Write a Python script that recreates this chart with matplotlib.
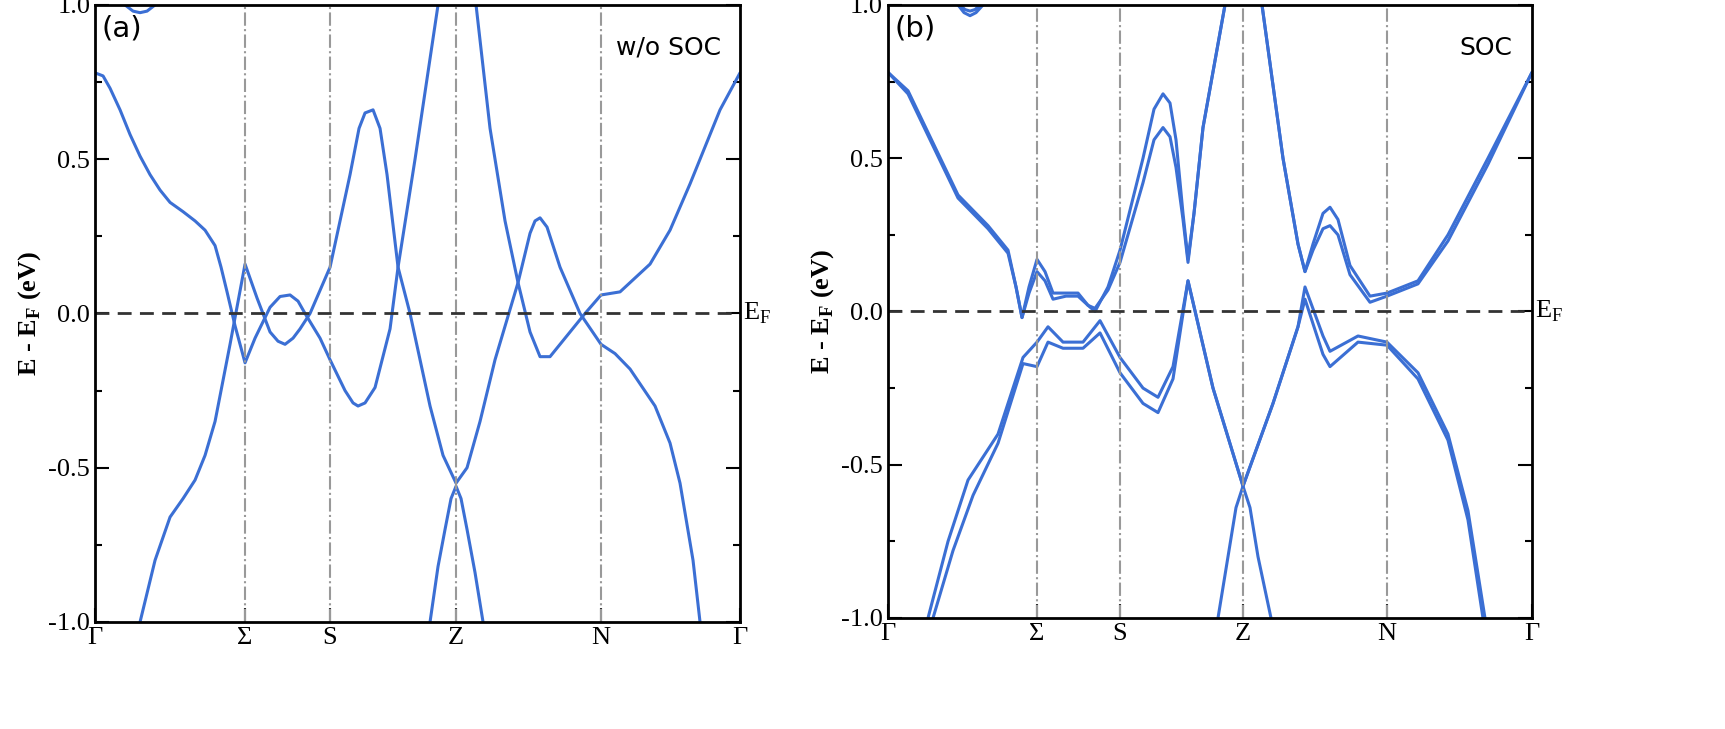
import numpy as np
import matplotlib
matplotlib.use("Agg")
import matplotlib.pyplot as plt
from matplotlib.ticker import MultipleLocator

# path coordinate (arbitrary units along k-path), energies in eV
kpts_a = [0, 150, 235, 361, 506, 645]
kpts_b = [0, 149, 232, 355, 499, 644]
klabels = ["Γ", "Σ", "S", "Z", "N", "Γ"]

a_top_k = [0, 8, 15, 25, 35, 45, 55, 65, 75, 88, 100, 110, 120, 126, 132, 140, 150, 160, 175, 185, 195, 203,
           210, 225, 235, 250, 258, 263, 270, 280, 295, 303, 320, 343, 361, 381, 395, 410, 423, 435, 445, 455,
           470, 490, 506, 525, 555, 575, 595, 625, 645]
a_top_e = [0.78, 0.77, 0.73, 0.66, 0.58, 0.51, 0.45, 0.4, 0.36, 0.33, 0.3, 0.27, 0.22, 0.15, 0.07, -0.04,
           -0.16, -0.08, 0.02, 0.055, 0.06, 0.04, 0.0, -0.08, -0.15, -0.25, -0.29, -0.3, -0.29, -0.24, -0.05,
           0.15, 0.5, 1.0, 1.1, 1.0, 0.6, 0.3, 0.1, -0.06, -0.14, -0.14, -0.08, 0.0, 0.06, 0.07, 0.16, 0.27,
           0.42, 0.66, 0.78]
a_mid_k = [45, 60, 75, 88, 100, 110, 120, 135, 150, 162, 175, 183, 190, 198, 205, 215, 235, 255, 264, 270,
           278, 285, 292, 303, 315, 335, 348, 361, 372, 385, 400, 423, 435, 440, 445, 452, 465, 485, 506, 520,
           535, 560, 575, 585, 598, 605]
a_mid_e = [-1.0, -0.8, -0.66, -0.6, -0.54, -0.46, -0.35, -0.1, 0.16, 0.05, -0.06, -0.09, -0.1, -0.08, -0.05,
           0.0, 0.15, 0.45, 0.6, 0.65, 0.66, 0.6, 0.45, 0.15, 0.0, -0.3, -0.46, -0.55, -0.5, -0.35, -0.15,
           0.1, 0.26, 0.3, 0.31, 0.28, 0.15, 0.0, -0.1, -0.13, -0.18, -0.3, -0.42, -0.55, -0.8, -1.0]
a_low_k = [335, 343, 350, 356, 361, 366, 372, 380, 388]
a_low_e = [-1.0, -0.82, -0.7, -0.6, -0.56, -0.6, -0.7, -0.84, -1.0]
a_arc_k = [30, 38, 45, 52, 60]
a_arc_e = [1.0, 0.98, 0.975, 0.98, 1.0]

b_top1_k = [0, 20, 45, 70, 100, 120, 128, 134, 141, 149, 157, 165, 178, 190, 200, 207, 220, 232, 255, 266,
            275, 282, 288, 295, 300, 306, 315, 337, 355, 374, 395, 410, 417, 425, 435, 442, 450, 462, 482, 499,
            530, 560, 600, 644]
b_top1_e = [0.78, 0.72, 0.55, 0.38, 0.28, 0.2, 0.08, -0.02, 0.08, 0.17, 0.13, 0.06, 0.06, 0.06, 0.02, 0.0,
            0.08, 0.2, 0.5, 0.66, 0.71, 0.68, 0.56, 0.32, 0.17, 0.32, 0.6, 1.0, 1.1, 1.0, 0.5, 0.22, 0.13, 0.22,
            0.32, 0.34, 0.3, 0.15, 0.05, 0.06, 0.1, 0.25, 0.5, 0.78]
b_top2_e = [0.78, 0.71, 0.54, 0.37, 0.27, 0.19, 0.08, -0.02, 0.06, 0.13, 0.1, 0.04, 0.05, 0.05, 0.02, 0.01,
            0.07, 0.16, 0.42, 0.56, 0.6, 0.57, 0.47, 0.3, 0.16, 0.32, 0.6, 1.0, 1.1, 1.0, 0.5, 0.22, 0.13, 0.2,
            0.27, 0.28, 0.25, 0.12, 0.03, 0.05, 0.09, 0.23, 0.48, 0.78]
b_low1_k = [40, 60, 80, 110, 135, 149, 160, 175, 195, 212, 232, 255, 270, 285, 300, 325, 355, 385, 410, 417,
            435, 442, 470, 499, 530, 560, 580, 597]
b_low1_e = [-1.0, -0.75, -0.55, -0.4, -0.15, -0.1, -0.05, -0.1, -0.1, -0.03, -0.15, -0.25, -0.28, -0.18,
            0.1, -0.25, -0.57, -0.3, -0.05, 0.08, -0.08, -0.13, -0.08, -0.1, -0.2, -0.4, -0.65, -1.0]
b_low2_k = [45, 65, 85, 110, 135, 149, 160, 175, 195, 212, 232, 255, 270, 285, 300, 325, 355, 385, 410, 417,
            435, 442, 470, 499, 530, 560, 580, 595]
b_low2_e = [-1.0, -0.78, -0.6, -0.43, -0.17, -0.18, -0.1, -0.12, -0.12, -0.07, -0.2, -0.3, -0.33, -0.22,
            0.1, -0.25, -0.57, -0.3, -0.05, 0.04, -0.14, -0.18, -0.1, -0.11, -0.22, -0.42, -0.68, -1.0]
b_z_k = [330, 340, 348, 355, 362, 370, 383]
b_z_e = [-1.0, -0.8, -0.64, -0.57, -0.64, -0.8, -1.0]
b_arc1_k = [70, 76, 82, 88, 95]
b_arc1_e = [1.0, 0.975, 0.965, 0.975, 1.0]
b_arc2_k = [72, 77, 82, 87, 92]
b_arc2_e = [1.0, 0.985, 0.98, 0.985, 1.0]

blue = "#3b6fd4"
plt.rcParams['font.family'] = 'Liberation Serif'
plt.rcParams['xtick.direction'] = 'in'
plt.rcParams['ytick.direction'] = 'in'

fig = plt.figure(figsize=(17.25, 7.29), dpi=100)
ax1 = fig.add_axes([0.0551, 0.1468, 0.3739, 0.8464])
ax2 = fig.add_axes([0.5148, 0.1523, 0.3733, 0.8409])

panels = [
    (ax1, kpts_a, [(a_top_k, a_top_e), (a_mid_k, a_mid_e), (a_low_k, a_low_e), (a_arc_k, a_arc_e)],
     "(a)", "w/o SOC"),
    (ax2, kpts_b, [(b_top1_k, b_top1_e), (b_top1_k, b_top2_e), (b_low1_k, b_low1_e), (b_low2_k, b_low2_e),
                   (b_z_k, b_z_e), (b_arc1_k, b_arc1_e), (b_arc2_k, b_arc2_e)],
     "(b)", "SOC"),
]

for ax, kp, bands, tag, name in panels:
    for k, e in bands:
        ax.plot(k, e, color=blue, lw=2.2, solid_joinstyle='round', solid_capstyle='round')
    for x in kp[1:-1]:
        ax.axvline(x, color='#999999', lw=1.5, ls='-.')
    ax.axhline(0, color='#333333', lw=2, ls=(0, (5, 3)))
    ax.set_xlim(kp[0], kp[-1])
    ax.set_ylim(-1.0, 1.0)
    ax.set_xticks(kp)
    ax.set_xticklabels(klabels, fontsize=19)
    ax.yaxis.set_minor_locator(MultipleLocator(0.25))
    ax.set_yticks([-1.0, -0.5, 0.0, 0.5, 1.0])
    ax.set_yticklabels(["-1.0", "-0.5", "0.0", "0.5", "1.0"], fontsize=19)
    ax.tick_params(which='both', right=True, top=False, width=1.5)
    ax.tick_params(which='major', length=10)
    ax.tick_params(which='minor', length=5)
    for s in ax.spines.values():
        s.set_linewidth(2)
    ax.set_ylabel("E - E$_\\mathregular{F}$ (eV)", fontsize=19, fontweight='bold')
    ax.text(0.01, 0.985, tag, transform=ax.transAxes, fontsize=21, va='top', family='DejaVu Sans')
    ax.text(0.97, 0.95, name, transform=ax.transAxes, fontsize=18, va='top', ha='right', family='DejaVu Sans')
    ax.text(1.005, 0.5, "E$_\\mathregular{F}$", transform=ax.transAxes, fontsize=19, va='center', ha='left')

fig.savefig("out.png")
plt.close(fig)
